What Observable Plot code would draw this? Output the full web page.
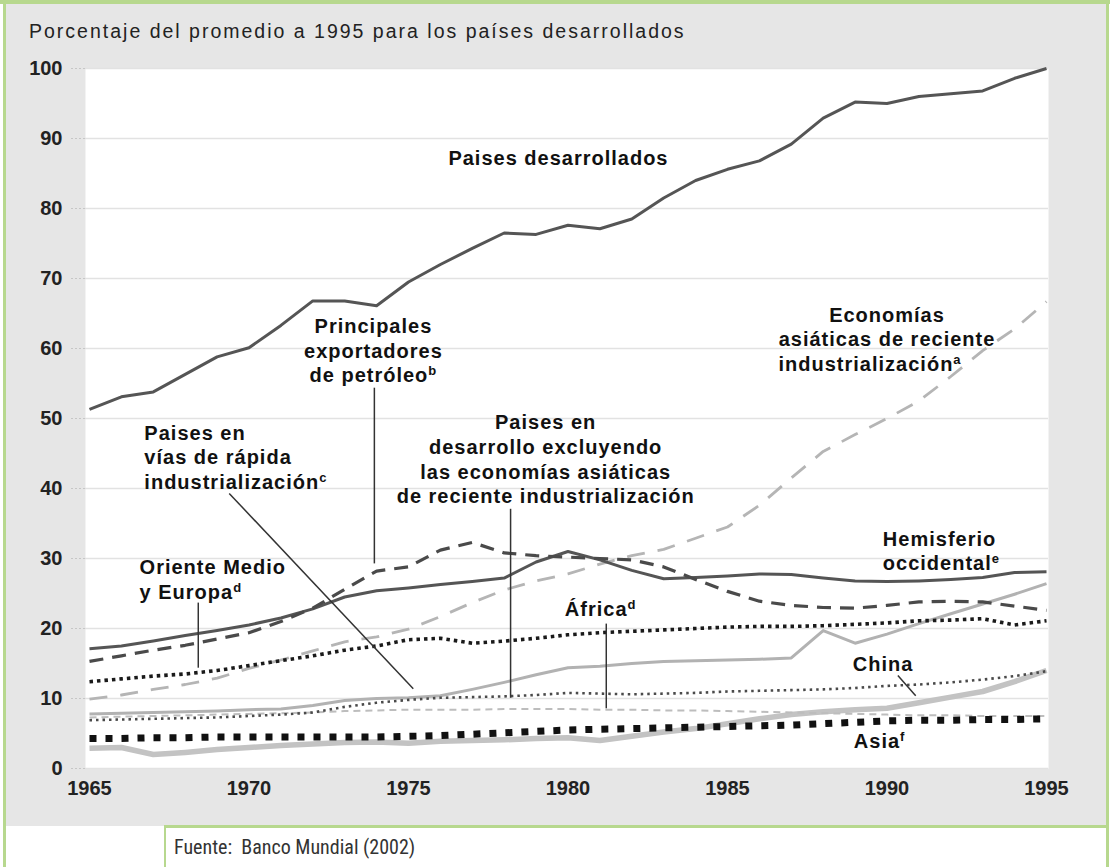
<!DOCTYPE html>
<html>
<head>
<meta charset="utf-8">
<script src="https://cdn.jsdelivr.net/npm/d3@7"></script>
<script src="https://cdn.jsdelivr.net/npm/@observablehq/plot@0.6"></script>
<style>
  html, body { margin: 0; padding: 0; background: #ffffff; }
  body { width: 1113px; height: 867px; position: relative; overflow: hidden; font-family: "Liberation Sans", Arial, sans-serif; }
  .green { position: absolute; background: #b7d88e; }
  #panel { position: absolute; left: 6px; top: 4px; width: 1100px; height: 822px; background: #e6e6e6; }
  #title { position: absolute; left: 29px; top: 20px; font-size: 19.5px; letter-spacing: 2px; color: #222; white-space: nowrap; }
  #chart { position: absolute; left: 0; top: 0; }
  #source { position: absolute; left: 174px; top: 835px; font-family: "Liberation Sans Narrow", "Roboto Condensed", "DejaVu Sans Condensed", sans-serif; font-size: 20px; color: #333; white-space: pre; }
  #chart svg g[aria-label="text"] text { letter-spacing: 1px; }
</style>
</head>
<body>
<div id="panel"></div>
<div class="green" style="left:3px; top:0; width:3px; height:867px;"></div>
<div class="green" style="left:0; top:0; width:1110px; height:4px;"></div>
<div class="green" style="left:1106px; top:0; width:3px; height:867px;"></div>
<div class="green" style="left:164px; top:825px; width:945px; height:3px;"></div>
<div class="green" style="left:164px; top:825px; width:2px; height:42px;"></div>
<div id="title">Porcentaje del promedio a 1995 para los países desarrollados</div>
<div id="chart"></div>
<div id="source">Fuente:  Banco Mundial (2002)</div>
<script>
// ---- Data ----
const years = [1965,1966,1967,1968,1969,1970,1971,1972,1973,1974,1975,1976,1977,1978,1979,1980,1981,1982,1983,1984,1985,1986,1987,1988,1989,1990,1991,1992,1993,1994,1995];

const desarrollados = [51.3,53.1,53.8,56.3,58.8,60.1,63.3,66.8,66.8,66.1,69.5,72.0,74.3,76.5,76.3,77.6,77.1,78.5,81.5,84.0,85.6,86.8,89.2,92.9,95.2,95.0,96.0,96.4,96.8,98.6,100.0];
const asiaticasNIE = [9.9,10.5,11.3,12.0,12.9,14.3,15.5,16.8,18.1,18.8,19.9,21.7,23.7,25.5,26.8,27.8,29.2,30.4,31.3,32.9,34.5,37.6,41.5,45.3,47.7,50.0,52.5,56.0,59.7,62.8,66.7];
const hemisferio = [17.1,17.5,18.2,19.0,19.7,20.5,21.5,22.8,24.5,25.4,25.8,26.3,26.7,27.2,29.5,31.0,29.8,28.3,27.1,27.3,27.5,27.8,27.7,27.2,26.8,26.7,26.8,27.0,27.3,28.0,28.1];
const petroleo = [15.3,16.1,16.9,17.6,18.5,19.4,21.0,22.9,25.6,28.2,28.8,31.2,32.3,30.8,30.4,30.2,30.0,29.8,28.8,27.0,25.3,23.9,23.3,23.0,22.9,23.3,23.8,23.9,23.8,23.2,22.6];
const orienteMedio = [12.4,12.8,13.2,13.5,14.0,14.7,15.4,16.1,16.9,17.5,18.4,18.6,17.9,18.2,18.6,19.1,19.4,19.6,19.8,20.0,20.2,20.3,20.3,20.4,20.6,20.8,21.1,21.2,21.4,20.5,21.1];
const rapida = [7.8,7.9,8.0,8.1,8.2,8.4,8.5,9.0,9.7,10.0,10.1,10.4,11.3,12.3,13.4,14.4,14.6,15.0,15.3,15.4,15.5,15.6,15.8,19.7,17.9,19.2,20.7,22.1,23.5,24.9,26.4];
const enDesarrollo = [6.9,7.0,7.1,7.2,7.3,7.5,7.7,8.0,8.8,9.4,9.8,10.1,10.2,10.3,10.5,10.8,10.7,10.6,10.7,10.8,11.0,11.1,11.2,11.3,11.5,11.8,12.0,12.3,12.7,13.2,13.9];
const africa = [7.3,7.4,7.5,7.6,7.7,7.8,7.9,8.0,8.2,8.3,8.4,8.4,8.4,8.5,8.5,8.5,8.4,8.4,8.3,8.3,8.2,8.1,8.0,7.9,7.8,7.7,7.6,7.6,7.5,7.5,7.5];
const asia = [4.3,4.3,4.4,4.4,4.5,4.5,4.5,4.5,4.5,4.5,4.6,4.7,4.9,5.1,5.3,5.5,5.6,5.7,5.8,5.9,6.0,6.1,6.2,6.4,6.6,6.8,6.9,6.9,7.0,7.0,7.1];
const china = [2.9,3.0,2.0,2.3,2.7,3.0,3.3,3.5,3.7,3.8,3.6,3.9,4.0,4.1,4.3,4.4,4.0,4.6,5.2,5.7,6.4,7.1,7.7,8.1,8.4,8.6,9.4,10.2,11.0,12.4,14.0];

const xTicks = [1965,1970,1975,1980,1985,1990,1995];
const yTicks = [0,10,20,30,40,50,60,70,80,90,100];

// Series labels
const labelNames = {
  desarrollados: "Paises desarrollados",
  petroleo: "Principales\nexportadores\nde petróleo^b",
  asiaticasNIE1: "Economías\nasiáticas de reciente",
  asiaticasNIE2: "industrialización^a",
  enDesarrollo: "Paises en\ndesarrollo excluyendo\nlas economías asiáticas\nde reciente industrialización",
  rapida: "Paises en\nvías de rápida\nindustrialización^c",
  orienteMedio: "Oriente Medio\ny Europa^d",
  hemisferio: "Hemisferio\noccidental^e",
  africa: "África^d",
  china: "China",
  asia: "Asia^f"
};

// ---- Styles ----
const seriesStyles = [
  {values: china, stroke: "#c3c3c3", width: 5.5, dash: null},
  {values: africa, stroke: "#bdbdbd", width: 2, dash: "7,5"},
  {values: rapida, stroke: "#b2b2b2", width: 3, dash: null},
  {values: asiaticasNIE, stroke: "#b5b5b5", width: 2.8, dash: "18,13"},
  {values: enDesarrollo, stroke: "#4a4a4a", width: 2.6, dash: "2.5,4"},
  {values: asia, stroke: "#111111", width: 7, dash: "7,9"},
  {values: orienteMedio, stroke: "#1a1a1a", width: 3.6, dash: "3.5,4"},
  {values: hemisferio, stroke: "#555555", width: 3, dash: null},
  {values: petroleo, stroke: "#4a4a4a", width: 3.2, dash: "14,9"},
  {values: desarrollados, stroke: "#555555", width: 3, dash: null}
];

const toRows = (vals) => years.map((yr, i) => ({year: yr, value: vals[i]}));

// annotation placement (data coordinates)
const labelsMiddle = [
  {x: 1979.7, y: 87.3, text: labelNames.desarrollados},
  {x: 1973.9, y: 59.8, text: labelNames.petroleo},
  {x: 1990.0, y: 63.2, text: labelNames.asiaticasNIE1},
  {x: 1979.3, y: 44.3, text: labelNames.enDesarrollo}
];
const labelsStart = [
  {x: 1986.6, y: 57.9, text: labelNames.asiaticasNIE2},
  {x: 1966.72, y: 44.6, text: labelNames.rapida},
  {x: 1966.57, y: 27.1, text: labelNames.orienteMedio},
  {x: 1989.87, y: 31.2, text: labelNames.hemisferio},
  {x: 1979.9, y: 22.9, text: labelNames.africa},
  {x: 1988.93, y: 15.1, text: labelNames.china},
  {x: 1988.96, y: 4.0, text: labelNames.asia}
];
const pointers = [
  {x1: 1973.93, y1: 54.4, x2: 1973.93, y2: 29.3},
  {x1: 1969.38, y1: 39.3, x2: 1975.15, y2: 11.4},
  {x1: 1968.41, y1: 23.7, x2: 1968.41, y2: 14.4},
  {x1: 1978.2, y1: 37.1, x2: 1978.2, y2: 10.1},
  {x1: 1981.2, y1: 20.7, x2: 1981.2, y2: 8.6},
  {x1: 1990.34, y1: 13.3, x2: 1990.9, y2: 10.4}
];

const textOpts = {fontSize: 20, fontWeight: "bold", fill: "#111", lineHeight: 1.23, lineAnchor: "middle", fontFamily: "'Liberation Sans', Arial, sans-serif"};

const chart = Plot.plot({
  width: 1113,
  height: 826,
  marginLeft: 85,
  marginRight: 65,
  marginTop: 68,
  marginBottom: 58,
  x: {domain: [1965, 1995], insetLeft: 4, insetRight: 2, label: null},
  y: {domain: [0, 100], label: null},
  style: {background: "transparent", fontFamily: "'Liberation Sans', Arial, sans-serif", overflow: "visible"},
  marks: [
    Plot.frame({fill: "white", stroke: "none"}),
    Plot.gridY(yTicks, {stroke: "#e2e2e2", strokeOpacity: 1, strokeWidth: 1.5}),
    Plot.axisY(yTicks, {tickSize: 14, tickPadding: 9, stroke: "#c6c6c6", strokeDasharray: "2,2", fontSize: 20, fontWeight: "bold", fill: "#222", tickFormat: d => String(d), label: null}),
    Plot.axisX(xTicks, {tickSize: 0, tickPadding: 12, fontSize: 20, fontWeight: "bold", fill: "#222", tickFormat: d => String(d), label: null}),
    ...seriesStyles.map(s => Plot.line(toRows(s.values), {
      x: "year", y: "value", stroke: s.stroke, strokeWidth: s.width,
      strokeDasharray: s.dash, strokeLinecap: "butt", strokeLinejoin: "round"
    })),
    Plot.link(pointers, {x1: "x1", y1: "y1", x2: "x2", y2: "y2", stroke: "#333", strokeWidth: 1.5}),
    Plot.text(labelsMiddle, {x: "x", y: "y", text: "text", textAnchor: "middle", ...textOpts}),
    Plot.text(labelsStart, {x: "x", y: "y", text: "text", textAnchor: "start", ...textOpts})
  ]
});

// superscript footnote letters written as ^x
const NS = "http://www.w3.org/2000/svg";
chart.querySelectorAll('g[aria-label="text"] text, g[aria-label="text"] tspan').forEach(el => {
  if (el.children.length) return;
  const s = el.textContent;
  const i = s.indexOf("^");
  if (i < 0) return;
  el.textContent = s.slice(0, i);
  const sup = document.createElementNS(NS, "tspan");
  sup.setAttribute("baseline-shift", "super");
  sup.setAttribute("font-size", "13");
  sup.textContent = s.slice(i + 1);
  el.appendChild(sup);
});

document.getElementById("chart").appendChild(chart);
</script>
</body>
</html>
